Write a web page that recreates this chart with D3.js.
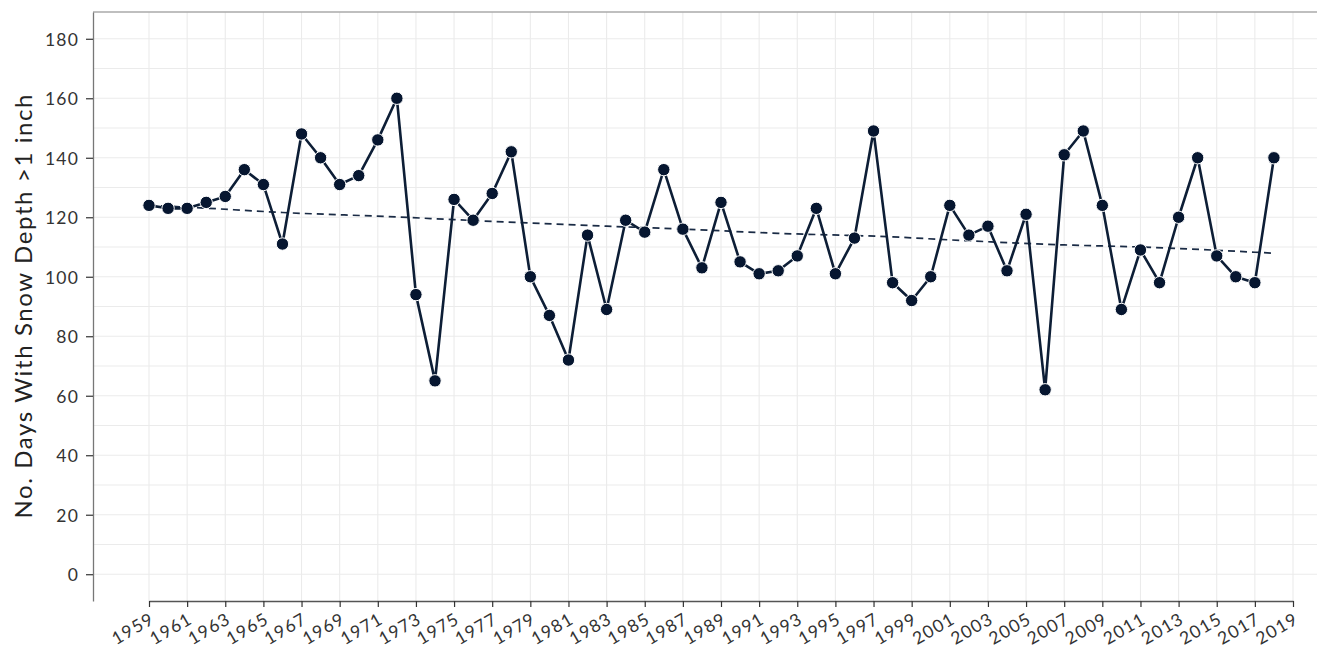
<!DOCTYPE html>
<html>
<head>
<meta charset="utf-8">
<script src="https://cdn.jsdelivr.net/npm/d3@7"></script>
<style>
  body { margin: 0; background: #fff; }
  svg { display: block; font-family: Lato, "Open Sans", sans-serif; }
  .grid line { stroke: #ebebeb; stroke-width: 1.1; }
</style>
</head>
<body>
<div id="chart"></div>
<script>
// snow depth days per winter
var years = [1959, 1960, 1961, 1962, 1963, 1964, 1965, 1966, 1967, 1968,
    1969, 1970, 1971, 1972, 1973, 1974, 1975, 1976, 1977, 1978,
    1979, 1980, 1981, 1982, 1983, 1984, 1985, 1986, 1987, 1988,
    1989, 1990, 1991, 1992, 1993, 1994, 1995, 1996, 1997, 1998,
    1999, 2000, 2001, 2002, 2003, 2004, 2005, 2006, 2007, 2008,
    2009, 2010, 2011, 2012, 2013, 2014, 2015, 2016, 2017, 2018];
var days = [124, 123, 123, 125, 127, 136, 131, 111, 148, 140,
    131, 134, 146, 160, 94, 65, 126, 119, 128, 142,
    100, 87, 72, 114, 89, 119, 115, 136, 116, 103,
    125, 105, 101, 102, 107, 123, 101, 113, 149, 98,
    92, 100, 124, 114, 117, 102, 121, 62, 141, 149,
    124, 89, 109, 98, 120, 140, 107, 100, 98, 140];

// smoothed trend
var trendYears = [1959, 1961, 1966, 1972, 1975, 1983, 1986, 1992, 1998, 2001, 2007, 2011, 2018];
var trendDays = [124, 123.4, 121.6, 120.1, 119.2, 117.0, 116.3, 114.6, 113.4, 112.4, 110.7, 110.0, 107.9];

var yTicks = [0, 20, 40, 60, 80, 100, 120, 140, 160, 180];
var yMinor = [10, 30, 50, 70, 90, 110, 130, 150, 170];
var xTicks = d3.range(1959, 2020, 2);

var width = 1317, height = 653;
var margin = { top: 12, right: 0, bottom: 52, left: 93 };

var svg = d3.select("#chart").append("svg")
    .attr("width", width)
    .attr("height", height);

var x = d3.scaleLinear().domain([1959, 2019]).range([149, 1293]);
var y = d3.scaleLinear().domain([-9, 189]).range([height - margin.bottom, margin.top]);

var plot = svg.append("g");

// gridlines
var grid = plot.append("g").attr("class", "grid");
grid.selectAll(".hmin").data(yMinor).enter().append("line")
    .attr("x1", margin.left).attr("x2", width)
    .attr("y1", d => y(d)).attr("y2", d => y(d));
grid.selectAll(".hmaj").data(yTicks).enter().append("line")
    .attr("x1", margin.left).attr("x2", width)
    .attr("y1", d => y(d)).attr("y2", d => y(d));
grid.selectAll(".v").data(xTicks).enter().append("line")
    .attr("x1", d => x(d)).attr("x2", d => x(d))
    .attr("y1", margin.top).attr("y2", height - margin.bottom);

// top border
plot.append("line")
    .attr("x1", margin.left).attr("x2", width)
    .attr("y1", margin.top).attr("y2", margin.top)
    .attr("stroke", "#aaa").attr("stroke-width", 1.3);

// trend line
plot.append("path")
    .datum(trendYears.map((d, i) => [d, trendDays[i]]))
    .attr("fill", "none")
    .attr("stroke", "#1a2b45")
    .attr("stroke-width", 1.7)
    .attr("stroke-dasharray", "7,5")
    .attr("d", d3.line().curve(d3.curveMonotoneX).x(d => x(d[0])).y(d => y(d[1])));

// data line
var series = years.map((d, i) => ({ year: d, value: days[i] }));
plot.append("path")
    .datum(series)
    .attr("fill", "none")
    .attr("stroke", "#0d1e36")
    .attr("stroke-width", 2.6)
    .attr("stroke-linejoin", "round")
    .attr("d", d3.line().x(d => x(d.year)).y(d => y(d.value)));

plot.selectAll("circle")
    .data(series)
    .enter()
    .append("circle")
    .attr("cx", d => x(d.year))
    .attr("cy", d => y(d.value))
    .attr("r", 6.2)
    .attr("fill", "#061630")
    .attr("stroke", "#fff")
    .attr("stroke-width", 1);

// y axis
var yAxis = svg.append("g")
    .attr("transform", "translate(" + margin.left + ",0)")
    .call(d3.axisLeft(y).tickValues(yTicks).tickSize(7).tickSizeOuter(0).tickPadding(7));
yAxis.select(".domain").attr("stroke", "#777").attr("stroke-width", 1.3);
yAxis.selectAll(".tick line").attr("stroke", "#333").attr("stroke-width", 1.2);
yAxis.selectAll(".tick text")
    .attr("fill", "#333")
    .attr("font-family", "Lato, sans-serif")
    .attr("font-size", 17.5)
    .attr("letter-spacing", 1.2)
    .attr("dy", "0.36em");

// x axis
var xAxis = svg.append("g")
    .attr("transform", "translate(0," + (height - margin.bottom) + ")")
    .call(d3.axisBottom(x).tickValues(xTicks).tickFormat(d3.format("d")).tickSize(6).tickSizeOuter(0));
xAxis.select(".domain").attr("stroke", "#555").attr("stroke-width", 1.5);
xAxis.selectAll(".tick line").attr("stroke", "#333").attr("stroke-width", 1.2);
xAxis.selectAll(".tick text")
    .attr("fill", "#333")
    .attr("font-family", "Lato, sans-serif")
    .attr("font-size", 17.5)
    .attr("letter-spacing", 1.2)
    .attr("text-anchor", "end")
    .attr("x", 7).attr("y", 0).attr("dy", 0)
    .attr("transform", "translate(0,25) rotate(-30)");

// y axis title
svg.append("text")
    .attr("transform", "translate(32," + y(90) + ") rotate(-90)")
    .attr("text-anchor", "middle")
    .attr("fill", "#222")
    .attr("font-size", 24)
    .attr("textLength", 424)
    .attr("lengthAdjust", "spacing")
    .text("No. Days With Snow Depth >1 inch");
</script>
</body>
</html>
